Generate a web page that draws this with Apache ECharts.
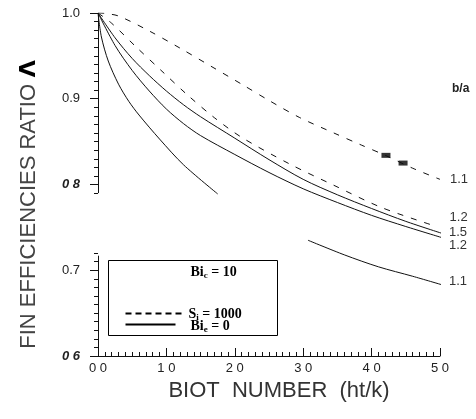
<!DOCTYPE html>
<html><head><meta charset="utf-8">
<script src="https://cdn.jsdelivr.net/npm/echarts@6/dist/echarts.min.js"></script>
<style>html,body{margin:0;padding:0;background:#fff}#c{width:476px;height:419px}</style>
</head><body><div id="c"></div>
<script>
// ---- tick labels ----
const xTickLabels = ['0 0','1 0','2 0','3 0','4 0','5 0'];
const yTickValues = [0.6, 0.7, 0.8, 0.9, 1.0];
const yTickLabels = ['0 6', '0.7', '0 8', '0.9', '1.0'];
const yAxisVisibleRanges = [[0.79, 1.0], [0.6, 0.717]];

// ---- curves (b/a values) ----
const dash11X = [0, 0.1, 0.3, 0.75, 1.2, 1.65, 2.1, 2.5, 2.95, 3.45, 3.85, 4.2, 4.6, 5.0];
const dash11Y = [1.0, 0.9995, 0.9965, 0.979, 0.959, 0.938, 0.917, 0.898, 0.878, 0.86, 0.846, 0.834, 0.819, 0.806];

const dash12X = [0, 0.2, 0.55, 0.95, 1.3, 1.7, 2.1, 2.8, 3.45, 4.15, 4.95];
const dash12Y = [1.0, 0.988, 0.961, 0.931, 0.905, 0.878, 0.855, 0.824, 0.799, 0.773, 0.751];

const solid15X = [0, 0.25, 0.5, 0.75, 1.0, 1.25, 1.5, 2.0, 2.5, 3.0, 3.5, 4.0, 4.5, 5.03];
const solid15Y = [1.0, 0.971, 0.947, 0.927, 0.909, 0.893, 0.879, 0.854, 0.829, 0.806, 0.788, 0.772, 0.757, 0.743];

const solid12X = [0, 0.25, 0.5, 0.75, 1.0, 1.25, 1.5, 2.0, 2.5, 3.0, 3.5, 4.0, 4.5, 5.03];
const solid12Y = [1.0, 0.962, 0.933, 0.909, 0.888, 0.871, 0.857, 0.835, 0.814, 0.795, 0.779, 0.764, 0.751, 0.738];

const solid11X = [0, 0.05, 0.15, 0.3, 0.45, 0.6, 0.9, 1.25, 1.75, 2.4, 3.07, 3.6, 4.1, 4.6, 5.03];
const solid11Y = [1.0, 0.972, 0.944, 0.917, 0.897, 0.881, 0.853, 0.823, 0.789, null, 0.735, 0.718, 0.704, 0.693, 0.683];

// scan artefacts (thick dashes on the b/a=1.1 dashed curve)
const blobX = [4.21, 4.46];
const blobY = [0.834, 0.825];

const curveLabels = ['1.1', '1.2', '1.5', '1.2', '1.1'];

function pairs(xs, ys) { return xs.map((x, i) => [x, ys[i] === null ? '-' : ys[i]]); }

const minorTickValues = [];
yAxisVisibleRanges.forEach(r => {
  for (let k = Math.round(r[0] * 100); k <= Math.round(r[1] * 100); k++) minorTickValues.push(k / 100);
});

const ink = '#111';
function curve(name, xs, ys, dashed, label, off, dist) {
  return {
    type: 'line', name: name, data: pairs(xs, ys), showSymbol: false, symbol: 'none',
    smooth: 0.3, connectNulls: false, silent: true,
    lineStyle: { color: ink, width: 1, type: dashed ? [6, 8] : 'solid' },
    endLabel: { show: true, formatter: label, distance: dist, offset: off,
      fontFamily: 'Liberation Sans', fontSize: 13, color: '#333' }
  };
}

const hiddenLine = { show: true, lineStyle: { color: '#fff', opacity: 0, width: 0 } };

const chart = echarts.init(document.getElementById('c'), null, { renderer: 'canvas' });
chart.setOption({
  animation: false,
  backgroundColor: '#fff',
  grid: { left: 98, right: 36, top: 13, bottom: 63 },
  xAxis: {
    type: 'value', min: 0, max: 5, interval: 1,
    name: 'BIOT  NUMBER  (ht/k)', nameLocation: 'middle', nameGap: 19,
    nameTextStyle: { fontFamily: 'Liberation Sans', fontSize: 22, color: '#333', padding: [0, 0, 0, 20] },
    axisLine: { lineStyle: { color: ink, width: 1 } },
    axisTick: { inside: true, length: 8, lineStyle: { color: ink } },
    minorTick: { show: true, splitNumber: 10, length: 4, lineStyle: { color: ink } },
    splitLine: { show: false },
    axisLabel: { margin: 6, fontFamily: 'Liberation Sans', fontSize: 13, color: '#222',
      formatter: v => xTickLabels[Math.round(v)] }
  },
  yAxis: [{
    type: 'value', min: 0.6, max: 1.0, interval: 0.1,
    name: '{a|FIN EFFICIENCIES RATIO}  {b|Λ}', nameLocation: 'middle', nameRotate: 90, nameGap: 58,
    nameTextStyle: { padding: [0, 40, 0, 0],
      rich: { a: { fontFamily: 'Liberation Sans', fontSize: 22, color: '#444' },
              b: { fontFamily: 'DejaVu Sans', fontSize: 22, fontWeight: 'bold', color: '#000' } } },
    axisLine: hiddenLine,
    axisTick: { show: true, inside: false, length: 8, lineStyle: { color: ink, width: 1 } },
    splitLine: { show: false },
    axisLabel: { margin: 18, fontFamily: 'Liberation Sans', fontSize: 13, color: '#222',
      formatter: v => {
        const i = yTickValues.findIndex(t => Math.abs(t - v) < 1e-6);
        const s = i >= 0 ? yTickLabels[i] : '';
        return s.indexOf(' ') >= 0 ? '{it|' + s + '}' : s;
      },
      rich: { it: { fontFamily: 'Liberation Sans', fontSize: 13, fontStyle: 'italic', fontWeight: 'bold', color: '#222' } } }
  }, {
    type: 'value', min: 0.6, max: 1.0, position: 'left', offset: 0,
    axisLine: hiddenLine,
    axisLabel: { show: false },
    splitLine: { show: false },
    axisTick: { show: true, inside: false, length: 4, customValues: minorTickValues, lineStyle: { color: ink, width: 1 } }
  }],
  series: [
    curve('dash11', dash11X, dash11Y, true, curveLabels[0], [0, 0], 10),
    curve('dash12', dash12X, dash12Y, true, curveLabels[1], [0, -9], 13),
    curve('solid15', solid15X, solid15Y, false, curveLabels[2], [0, -1], 8),
    curve('solid12', solid12X, solid12Y, false, curveLabels[3], [0, 8], 8),
    Object.assign(curve('solid11', solid11X, solid11Y, false, curveLabels[4], [0, -3], 8), {
      markLine: {
        silent: true, symbol: 'none', label: { show: false },
        lineStyle: { color: ink, width: 1, type: 'solid' },
        data: yAxisVisibleRanges.map(r => [{ coord: [0, r[0]] }, { coord: [0, r[1]] }])
      }
    }),
    { type: 'scatter', name: 'blobs', data: pairs(blobX, blobY), symbol: 'rect', symbolSize: [9, 5],
      itemStyle: { color: '#000' }, silent: true }
  ],
  graphic: [
    { type: 'text', left: 452, top: 83,
      style: { text: 'b/a', font: 'bold 12px "Liberation Sans"', fill: '#222' } },
    { type: 'group', left: 108, top: 260, children: [
      { type: 'rect', shape: { x: 0, y: 0, width: 169, height: 75 },
        style: { fill: '#fff', stroke: '#000', lineWidth: 1 } },
      { type: 'text', x: 82, y: 3,
        style: { rich: { t: { font: 'bold 14px "Liberation Serif"', fill: '#000' },
                         s: { font: 'bold 9px "Liberation Serif"', fill: '#000', padding: [8, 0, 0, 0] } },
                 text: '{t|Bi}{s|c}{t| = 10}' } },
      { type: 'line', shape: { x1: 17, y1: 53, x2: 74, y2: 53 },
        style: { stroke: '#000', lineWidth: 2, lineDash: [6, 4] } },
      { type: 'text', x: 80, y: 45,
        style: { rich: { t: { font: 'bold 14px "Liberation Serif"', fill: '#000' },
                         s: { font: 'bold 9px "Liberation Serif"', fill: '#000', padding: [8, 0, 0, 0] } },
                 text: '{t|S}{s|i}{t| = 1000}' } },
      { type: 'line', shape: { x1: 17, y1: 64, x2: 67, y2: 64 },
        style: { stroke: '#000', lineWidth: 2 } },
      { type: 'text', x: 82, y: 57,
        style: { rich: { t: { font: 'bold 14px "Liberation Serif"', fill: '#000' },
                         s: { font: 'bold 9px "Liberation Serif"', fill: '#000', padding: [8, 0, 0, 0] } },
                 text: '{t|Bi}{s|e}{t| = 0}' } }
    ] }
  ]
});
</script>
</body></html>
